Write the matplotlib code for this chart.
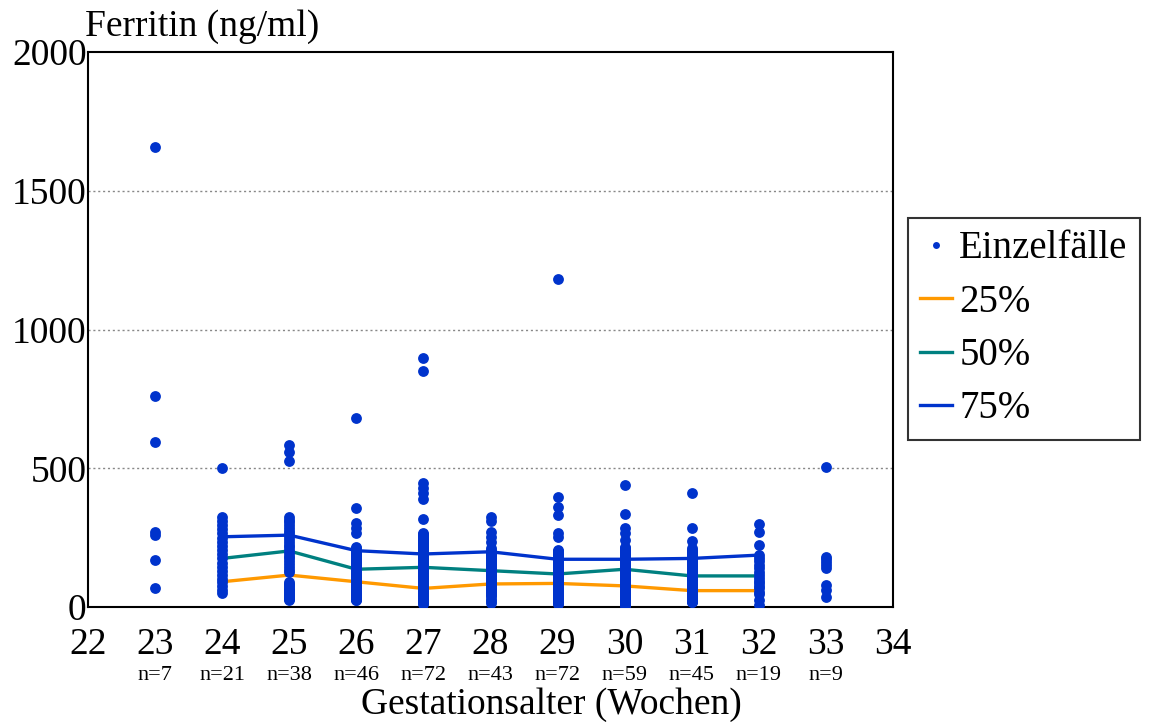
import numpy as np
import matplotlib
matplotlib.use("Agg")
import matplotlib.pyplot as plt
from matplotlib.lines import Line2D

plt.rcParams["font.family"] = ["Liberation Serif", "DejaVu Serif"]

# === Daten
weeks = [23, 24, 25, 26, 27, 28, 29, 30, 31, 32, 33]
n_labels = ["n=7", "n=21", "n=38", "n=46", "n=72", "n=43", "n=72", "n=59", "n=45", "n=19", "n=9"]

w23 = [1657, 761, 594, 270, 258, 169, 68]
w24 = [502, 325, 310, 295, 280, 265, 250, 235, 220, 205, 190, 175, 160, 145, 130,
       115, 100, 90, 75, 60, 50]
w25 = [583, 560, 526, 325, 315, 305, 295, 285, 275, 265, 255, 245, 235, 225, 215,
       205, 195, 185, 175, 165, 155, 145, 135, 127, 91, 84, 78, 72, 66, 60, 55, 50,
       45, 40, 36, 32, 28, 25]
w26 = [681, 356, 301, 284, 266, 217, 212, 207, 202, 197, 192, 187, 182, 177, 172,
       167, 162, 157, 152, 147, 142, 137, 132, 127, 122, 117, 112, 107, 102, 97, 92,
       87, 82, 77, 72, 67, 62, 57, 52, 47, 42, 37, 33, 30, 27, 25]
w27 = [898, 852, 447, 430, 410, 389, 316, 266, 262, 258, 254, 250, 246, 242, 238,
       234, 230, 226, 222, 218, 214, 210, 206, 202, 198, 194, 190, 186, 182, 178,
       174, 170, 166, 162, 158, 154, 150, 146, 142, 138, 134, 130, 126, 122, 118,
       114, 110, 106, 102, 98, 94, 90, 86, 82, 78, 74, 70, 66, 62, 58, 54, 50, 46,
       42, 38, 34, 30, 26, 22, 18, 14, 10]
w28 = [325, 311, 271, 253, 235, 211, 206, 200, 195, 190, 185, 180, 175, 170, 165,
       160, 155, 150, 145, 140, 135, 130, 125, 120, 115, 110, 105, 100, 95, 90, 85,
       80, 75, 70, 65, 60, 55, 50, 45, 40, 30, 22, 14]
w29 = [1182, 397, 361, 331, 265, 252, 205, 202, 199, 196, 193, 190, 187, 184, 181,
       178, 175, 172, 169, 166, 163, 160, 157, 154, 151, 148, 145, 142, 139, 136,
       133, 130, 127, 124, 121, 118, 115, 112, 109, 106, 103, 100, 97, 94, 91, 88,
       85, 82, 79, 76, 73, 70, 67, 64, 61, 58, 55, 52, 49, 46, 43, 40, 37, 34, 31,
       28, 25, 22, 19, 16, 13, 10]
w30 = [440, 335, 283, 266, 241, 217, 213, 209, 205, 201, 197, 193, 189, 185, 181,
       177, 173, 169, 165, 161, 157, 153, 149, 145, 141, 137, 133, 129, 125, 121,
       117, 113, 109, 105, 101, 97, 93, 89, 85, 81, 77, 73, 69, 65, 61, 57, 53, 49,
       45, 41, 37, 33, 29, 25, 21, 17, 12, 7, 2]
w31 = [410, 286, 239, 211, 206, 201, 196, 191, 186, 181, 176, 171, 166, 161, 156,
       151, 146, 141, 136, 131, 126, 121, 116, 111, 106, 101, 96, 91, 86, 81, 76,
       71, 66, 61, 56, 51, 46, 41, 36, 31, 27, 23, 20, 19, 19]
w32 = [299, 271, 223, 187, 175, 165, 151, 140, 127, 115, 103, 95, 85, 75, 67, 55,
       47, 25, 7]
w33 = [503, 181, 172, 163, 150, 139, 79, 61, 37]
cases = [w23, w24, w25, w26, w27, w28, w29, w30, w31, w32, w33]

pct_weeks = [24, 25, 26, 27, 28, 29, 30, 31, 32]
p25 = [91, 115, 91, 67, 83, 85, 76, 59, 59]
p50 = [175, 202, 136, 143, 131, 119, 136, 112, 112]
p75 = [253, 259, 203, 191, 199, 172, 172, 175, 187]

DOT = "#0033cc"
ORANGE = "#ff9900"
TEAL = "#008080"
BLUE = "#0033cc"

# === Grafik
fig = plt.figure(figsize=(11.49, 7.22), dpi=100)
ax = fig.add_axes([88 / 1149, 115 / 722, 805 / 1149, 555 / 722])

for w, vals in zip(weeks, cases):
    ax.plot([w] * len(vals), vals, "o", color=DOT, ms=7.8, mec="none", zorder=3)

ax.plot(pct_weeks, p25, color=ORANGE, lw=2.4, zorder=2)
ax.plot(pct_weeks, p50, color=TEAL, lw=2.4, zorder=2)
ax.plot(pct_weeks, p75, color=BLUE, lw=2.4, zorder=2)

ax.set_xlim(22, 34)
ax.set_ylim(0, 2000)
ax.set_xticks(range(22, 35))
ax.set_yticks([0, 500, 1000, 1500, 2000])
ax.tick_params(length=0, labelsize=27)
ax.tick_params(axis="x", pad=15)
ax.tick_params(axis="y", pad=1)
for y in [500, 1000, 1500]:
    ax.axhline(y, color="#888888", lw=1, ls=(0, (1.5, 2)), zorder=1)
for s in ax.spines.values():
    s.set_linewidth(1.5)
    s.set_color("black")

for w, lab in zip(weeks, n_labels):
    ax.text(w, -0.123, lab, transform=ax.get_xaxis_transform(), ha="center",
            va="center", fontsize=16)

ax.set_xlabel("Gestationsalter (Wochen)", fontsize=27)
ax.xaxis.set_label_coords(0.576, -0.145)
ax.text(-0.004, 1.046, "Ferritin (ng/ml)", transform=ax.transAxes, ha="left",
        va="center", fontsize=27)

handles = [
    Line2D([], [], ls="none", marker="o", ms=5, color=DOT, mec="none"),
    Line2D([], [], color=ORANGE, lw=2.4),
    Line2D([], [], color=TEAL, lw=2.4),
    Line2D([], [], color=BLUE, lw=2.4),
]
leg = fig.legend(handles, ["Einzelfälle", "25%", "50%", "75%"], loc="upper left",
                 bbox_to_anchor=(908 / 1149, 1 - 218 / 722), fontsize=28,
                 frameon=True, fancybox=False, handlelength=0.8, handletextpad=0.2,
                 labelspacing=0.42, borderpad=0.32, borderaxespad=0,
                 handleheight=0.7)
leg.get_frame().set_edgecolor("black")
leg.get_frame().set_linewidth(1.5)

fig.savefig("out.png", dpi=100)
